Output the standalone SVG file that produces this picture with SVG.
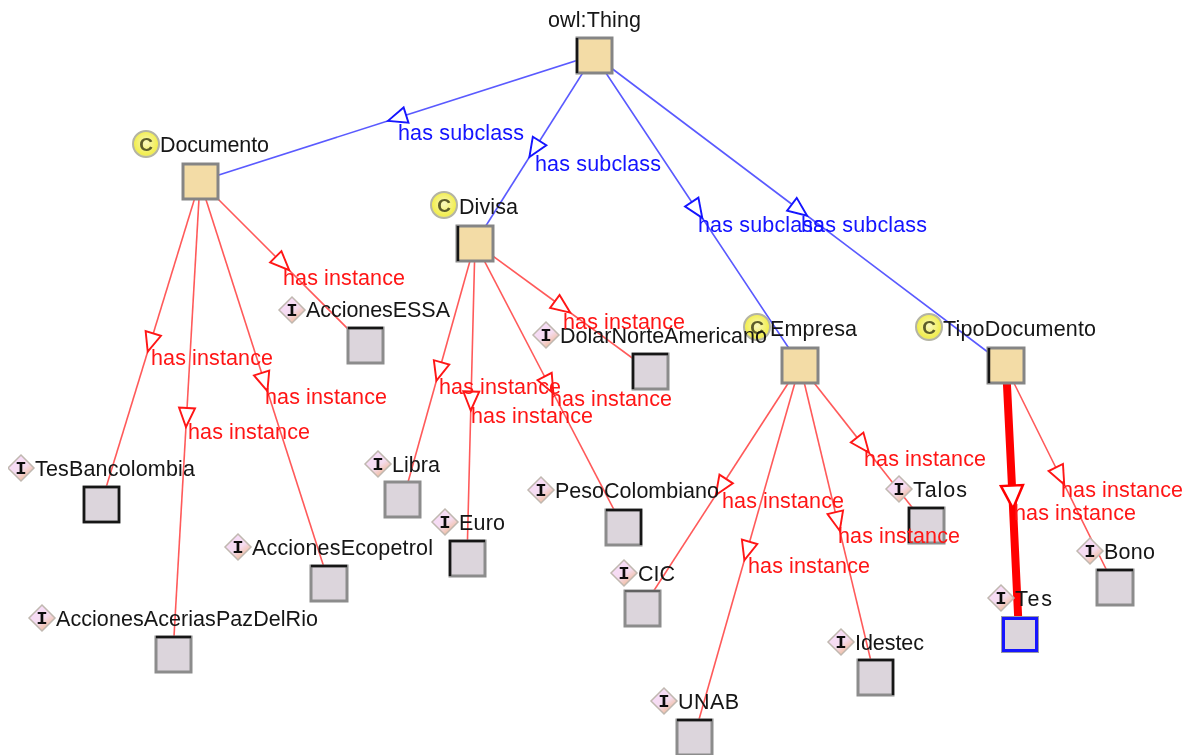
<svg xmlns="http://www.w3.org/2000/svg" width="1194" height="755" viewBox="0 0 1194 755">
<style>
text{font-family:"Liberation Sans",Arial,sans-serif}
.n{font-size:21.5px;fill:#141414}
.l{font-size:21.5px}
.sub{fill:#1212ff}
.ins{fill:#ff1414}
.e{fill:none}
.es{stroke:#5a5aff;stroke-width:1.6;marker-mid:url(#ab)}
.ei{stroke:#ff5a5a;stroke-width:1.6;marker-mid:url(#ar)}
.c{fill:#f3dca6;stroke:#858585;stroke-width:3}
.i{fill:#dcd5dc;stroke:#8c8c8c;stroke-width:3}
.k{fill:none;stroke:#141414;stroke-width:2.5}
.ic{font-size:19px;font-weight:bold;fill:#5c5c2a;text-anchor:middle}
.it{font-size:19px;font-weight:bold;font-family:"Liberation Mono",monospace;fill:#111;text-anchor:middle}
</style>
<defs>
<filter id="soft" x="0" y="0" width="100%" height="100%"><feGaussianBlur stdDeviation="0.4"/></filter>
<marker id="ab" markerUnits="userSpaceOnUse" markerWidth="22" markerHeight="22" refX="11" refY="11" viewBox="0 0 22 22" orient="auto" overflow="visible"><path d="M20.500 11L1.500 3V19Z" fill="#fff" stroke="#1212ff" stroke-width="1.900"/></marker>
<marker id="ar" markerUnits="userSpaceOnUse" markerWidth="22" markerHeight="22" refX="11" refY="11" viewBox="0 0 22 22" orient="auto" overflow="visible"><path d="M20.500 11L1.500 3V19Z" fill="#fff" stroke="#ff1414" stroke-width="1.900"/></marker>
<marker id="at" markerUnits="userSpaceOnUse" markerWidth="26" markerHeight="26" refX="13" refY="13" viewBox="0 0 26 26" orient="auto" overflow="visible"><path d="M24.500 13L1.500 2V24Z" fill="#fff" stroke="#ff0000" stroke-width="2.500"/></marker>
<radialGradient id="cg" cx="0.5" cy="0.45" r="0.6"><stop offset="0" stop-color="#f8f8c0"/><stop offset="0.75" stop-color="#f2ee50"/><stop offset="1" stop-color="#d8d8a0"/></radialGradient>
<linearGradient id="dg" x1="0.2" y1="0.1" x2="0.8" y2="0.9"><stop offset="0" stop-color="#f8dcfa"/><stop offset="0.55" stop-color="#f5dcf0"/><stop offset="1" stop-color="#f0b890"/></linearGradient>
<g id="ci"><circle r="13" fill="url(#cg)" stroke="#b4b4a4" stroke-width="2"/><text class="ic" y="6.500">C</text></g>
<g id="di"><path d="M0-13L13 0L0 13L-13 0Z" fill="url(#dg)" stroke="#c0b8b0" stroke-width="1.500"/><text class="it" y="5.500">I</text></g>
</defs>
<g filter="url(#soft)">
<g id="connectors">
<path class="e es" d="M594 55L397 118L200 181"/>
<path class="e es" d="M594 55L534.5 149L475 243"/>
<path class="e es" d="M594 55L697 210L800 365"/>
<path class="e es" d="M594 55L799.5 210L1005 365"/>
<path class="e ei" d="M200 181L282.5 263.5L365 346"/>
<path class="e ei" d="M200 181L150.5 342.5L101 504"/>
<path class="e ei" d="M200 181L186.5 417.500L173 654"/>
<path class="e ei" d="M200 181L264.500 382L329 583"/>
<path class="e ei" d="M475 243L562.5 307L650 371"/>
<path class="e ei" d="M475 243L439 371.5L403 500"/>
<path class="e ei" d="M475 243L471 401L467 559"/>
<path class="e ei" d="M475 243L549 385L623 527"/>
<path class="e ei" d="M800 365L721 487L642 609"/>
<path class="e ei" d="M800 365L747 551L694 737"/>
<path class="e ei" d="M800 365L837.5 521.5L875 678"/>
<path class="e ei" d="M800 365L863 445L926 525"/>
<path class="e ei" d="M1005 365L1060 476L1115 587"/>
<path d="M1006 365L1012.500 497L1019 635" fill="none" stroke="#ff0000" stroke-width="8" marker-mid="url(#at)"/>
</g>
<g id="node-thing"><rect class="c" x="577" y="38" width="35" height="35"/><path class="k" d="M577 73V38"/><text class="n" x="548" y="27" textLength="93">owl:Thing</text></g>
<g id="node-documento"><rect class="c" x="183" y="164" width="35" height="35"/><use href="#ci" x="146" y="144"/><text class="n" x="160" y="152" textLength="109">Documento</text></g>
<g id="node-divisa"><rect class="c" x="457" y="226" width="36" height="35"/><path class="k" d="M458 261V226"/><use href="#ci" x="444" y="205"/><text class="n" x="459" y="214" textLength="59">Divisa</text></g>
<g id="node-empresa"><rect class="c" x="782" y="348" width="36" height="35"/><use href="#ci" x="757" y="327"/><text class="n" x="770" y="336" textLength="87">Empresa</text></g>
<g id="node-tipodocumento"><rect class="c" x="988" y="348" width="36" height="35"/><path class="k" d="M989 383V348"/><use href="#ci" x="929" y="327"/><text class="n" x="943" y="336" textLength="153">TipoDocumento</text></g>
<g id="node-essa"><rect class="i" x="348" y="328" width="35" height="35"/><path class="k" d="M348 328H383"/><use href="#di" x="292" y="310"/><text class="n" x="306" y="317" textLength="144">AccionesESSA</text></g>
<g id="node-tesbancolombia"><rect class="i" x="84" y="487" width="35" height="35"/><rect class="k" x="84" y="487" width="35" height="35"/><use href="#di" x="21" y="468"/><text class="n" x="35" y="476" textLength="160">TesBancolombia</text></g>
<g id="node-acerias"><rect class="i" x="156" y="637" width="35" height="35"/><path class="k" d="M156 637H191"/><use href="#di" x="42" y="618"/><text class="n" x="56" y="626" textLength="262">AccionesAceriasPazDelRio</text></g>
<g id="node-ecopetrol"><rect class="i" x="311" y="566" width="36" height="35"/><path class="k" d="M311 566H347"/><use href="#di" x="238" y="547"/><text class="n" x="252" y="555" textLength="181">AccionesEcopetrol</text></g>
<g id="node-libra"><rect class="i" x="385" y="482" width="35" height="35"/><use href="#di" x="378" y="464"/><text class="n" x="392" y="472" textLength="48">Libra</text></g>
<g id="node-euro"><rect class="i" x="450" y="541" width="35" height="35"/><path class="k" d="M450 576V541H485"/><use href="#di" x="445" y="522"/><text class="n" x="459" y="530" textLength="46">Euro</text></g>
<g id="node-peso"><rect class="i" x="606" y="510" width="35" height="35"/><path class="k" d="M606 510H641V545"/><use href="#di" x="541" y="490"/><text class="n" x="555" y="498" textLength="164">PesoColombiano</text></g>
<g id="node-dolar"><rect class="i" x="633" y="354" width="35" height="35"/><path class="k" d="M633 389V354H668"/><use href="#di" x="546" y="335"/><text class="n" x="560" y="343" textLength="207">DolarNorteAmericano</text></g>
<g id="node-cic"><rect class="i" x="625" y="591" width="35" height="35"/><path d="M625 591H660" fill="none" stroke="#555" stroke-width="1.500"/><use href="#di" x="624" y="573"/><text class="n" x="638" y="581" textLength="37">CIC</text></g>
<g id="node-unab"><rect class="i" x="677" y="720" width="35" height="35"/><path class="k" d="M677 720H712"/><use href="#di" x="664" y="701"/><text class="n" x="678" y="709" textLength="61">UNAB</text></g>
<g id="node-idestec"><rect class="i" x="858" y="660" width="35" height="35"/><path class="k" d="M858 660H893V695"/><use href="#di" x="841" y="642"/><text class="n" x="855" y="650" textLength="69">Idestec</text></g>
<g id="node-talos"><rect class="i" x="909" y="508" width="35" height="35"/><path class="k" d="M909 543V508H944"/><use href="#di" x="899" y="489"/><text class="n" x="913" y="497" textLength="54">Talos</text></g>
<g id="node-tes"><rect x="1002" y="617" width="36" height="35" fill="none" stroke="#9a9aa8" stroke-width="2"/><rect x="1003.500" y="618.500" width="33" height="32" fill="#dcd5dc" stroke="#1212ff" stroke-width="3"/><use href="#di" x="1001" y="598"/><text class="n" x="1015" y="606" textLength="37">Tes</text></g>
<g id="node-bono"><rect class="i" x="1097" y="570" width="36" height="35"/><path class="k" d="M1097 570H1133"/><use href="#di" x="1090" y="551"/><text class="n" x="1104" y="559" textLength="51">Bono</text></g>
<g id="edge-labels">
<text class="l sub" x="398" y="140" textLength="126">has subclass</text>
<text class="l sub" x="535" y="171" textLength="126">has subclass</text>
<text class="l sub" x="698" y="232" textLength="126">has subclass</text>
<text class="l sub" x="801" y="232" textLength="126">has subclass</text>
<text class="l ins" x="283" y="285" textLength="122">has instance</text>
<text class="l ins" x="151" y="365" textLength="122">has instance</text>
<text class="l ins" x="188" y="439" textLength="122">has instance</text>
<text class="l ins" x="265" y="404" textLength="122">has instance</text>
<text class="l ins" x="563" y="329" textLength="122">has instance</text>
<text class="l ins" x="439" y="394" textLength="122">has instance</text>
<text class="l ins" x="471" y="423" textLength="122">has instance</text>
<text class="l ins" x="550" y="406" textLength="122">has instance</text>
<text class="l ins" x="722" y="508" textLength="122">has instance</text>
<text class="l ins" x="748" y="573" textLength="122">has instance</text>
<text class="l ins" x="838" y="543" textLength="122">has instance</text>
<text class="l ins" x="864" y="466" textLength="122">has instance</text>
<text class="l ins" x="1014" y="520" textLength="122">has instance</text>
<text class="l ins" x="1061" y="497" textLength="122">has instance</text>
</g>
</g>
</svg>
